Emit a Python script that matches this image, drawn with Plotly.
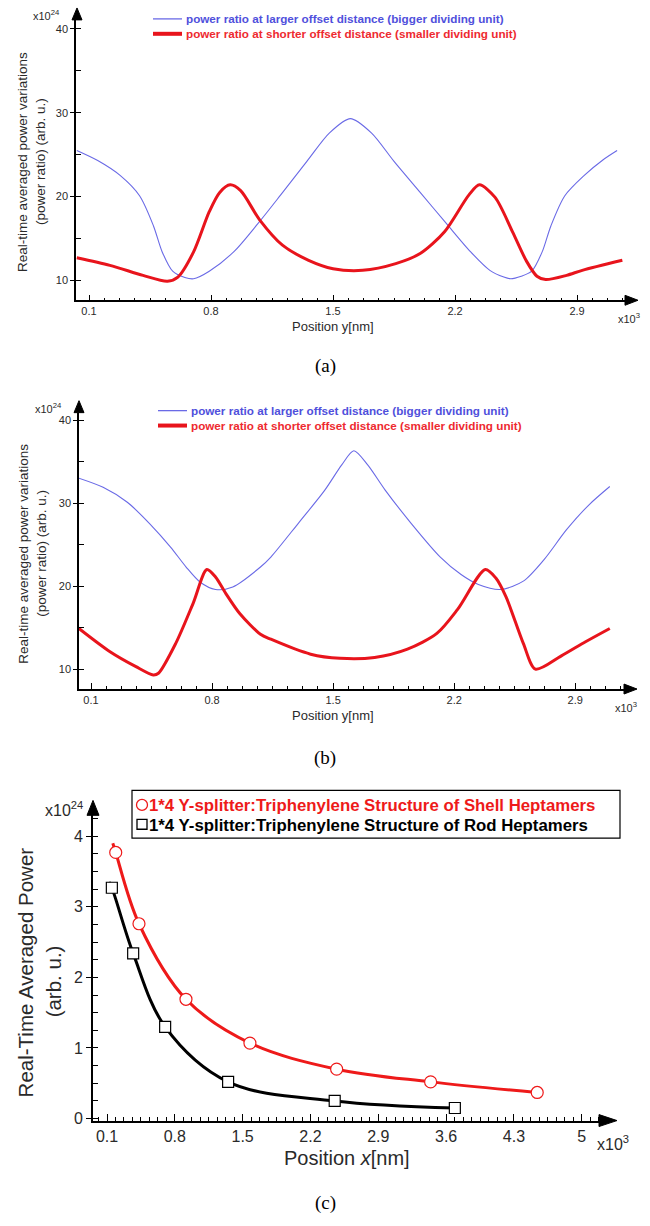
import plotly.graph_objects as go

W, H = 650, 1226


def fx(px):
    return px / W


def fy(py):
    return 1 - py / H


# ---------------- data ----------------
# Panel (a)
A_X_BLUE = [0.03, 0.15, 0.28, 0.39, 0.47, 0.52, 0.58, 0.65, 0.70, 0.79, 0.93, 1.07, 1.20, 1.35, 1.48, 1.60,
            1.72, 1.85, 2.00, 2.15, 2.29, 2.40, 2.48, 2.52, 2.58, 2.64, 2.70, 2.75, 2.83, 2.94, 3.05, 3.13]
A_Y_BLUE = [25.5, 24.3, 22.5, 20.1, 16.5, 13.4, 11.1, 10.35, 10.2, 11.1, 13.4, 16.8, 20.2, 24.2, 27.6, 29.3,
            27.6, 24.2, 20.5, 16.8, 13.4, 11.2, 10.4, 10.2, 10.5, 11.1, 13.4, 16.5, 20.1, 22.5, 24.4, 25.5]
A_X_RED = [0.03, 0.22, 0.41, 0.55, 0.61, 0.70, 0.79, 0.85, 0.91, 0.97, 1.08, 1.21, 1.36, 1.50, 1.67, 1.86,
           2.00, 2.14, 2.28, 2.34, 2.43, 2.53, 2.61, 2.67, 2.72, 2.84, 2.93, 3.16]
A_Y_RED = [12.7, 11.8, 10.6, 9.9, 10.4, 13.4, 18.2, 20.5, 21.4, 20.7, 17.2, 14.2, 12.4, 11.4, 11.2, 12.0,
           13.2, 15.8, 20.2, 21.4, 19.9, 15.8, 12.3, 10.5, 10.1, 10.6, 11.2, 12.4]

# Panel (b)
B_X_BLUE = [0.03, 0.17, 0.31, 0.44, 0.56, 0.65, 0.73, 0.82, 0.92, 1.08, 1.14, 1.30, 1.45, 1.55, 1.62, 1.70,
            1.80, 1.95, 2.12, 2.24, 2.34, 2.47, 2.60, 2.72, 2.85, 2.98, 3.10]
B_Y_BLUE = [33.0, 31.9, 30.1, 27.5, 24.7, 22.3, 20.5, 19.6, 19.9, 22.3, 23.5, 27.6, 31.5, 34.6, 36.3, 34.6,
            31.6, 27.6, 23.5, 21.4, 20.2, 19.6, 20.6, 23.2, 26.8, 29.8, 32.0]
B_X_RED = [0.03, 0.21, 0.36, 0.46, 0.49, 0.59, 0.69, 0.77, 0.82, 0.88, 0.96, 1.08, 1.14, 1.37, 1.54, 1.74,
           1.93, 2.10, 2.22, 2.38, 2.44, 2.50, 2.60, 2.67, 2.82, 2.96, 3.10]
B_Y_RED = [14.9, 12.1, 10.3, 9.3, 9.5, 13.1, 17.9, 22.0, 21.1, 19.1, 16.7, 14.2, 13.6, 11.8, 11.3, 11.4,
           12.4, 14.3, 17.2, 22.0, 21.0, 18.7, 13.1, 10.0, 11.6, 13.3, 14.9]

# Panel (c)
C_RED_X = [0.19, 0.43, 0.915, 1.575, 2.47, 3.44, 4.54]
C_RED_Y = [3.77, 2.76, 1.69, 1.07, 0.70, 0.52, 0.37]
C_RED_LINE_X = [0.16] + C_RED_X
C_RED_LINE_Y = [3.90] + C_RED_Y
C_BLK_X = [0.15, 0.37, 0.70, 1.35, 2.45, 3.69]
C_BLK_Y = [3.27, 2.34, 1.30, 0.52, 0.25, 0.15]
C_BLK_LINE_X = [0.12] + C_BLK_X
C_BLK_LINE_Y = [3.35] + C_BLK_Y

# tick labels
TICKS_AB_X = [0.1, 0.8, 1.5, 2.2, 2.9]
TICKLBL_AB_X = ["0.1", "0.8", "1.5", "2.2", "2.9"]
TICKS_AB_Y = [10, 20, 30, 40]
TICKS_C_X = [0.1, 0.8, 1.5, 2.2, 2.9, 3.6, 4.3, 5.0]
TICKLBL_C_X = ["0.1", "0.8", "1.5", "2.2", "2.9", "3.6", "4.3", "5"]
TICKS_C_Y = [0, 1, 2, 3, 4]

LEG_AB = ["power ratio at larger offset distance (bigger dividing unit)",
          "power ratio at shorter offset distance (smaller dividing unit)"]
LEG_C = ["1*4 Y-splitter:Triphenylene Structure of Shell Heptamers",
         "1*4 Y-splitter:Triphenylene Structure of Rod Heptamers"]

# ---------------- styling ----------------
FONT = "Arial, Liberation Sans, sans-serif"
SERIF = "Times New Roman, Liberation Serif, serif"
BLUE = "#6a6ae6"
BLUE_TXT = "#5050dc"
RED = "#e8141c"
RED_TXT = "#ee2a30"
C_RED = "#ee1a1a"
TXT = "#2a2a2a"

fig = go.Figure()

# panel (a)
fig.add_trace(go.Scatter(x=A_X_BLUE, y=A_Y_BLUE, mode="lines", xaxis="x", yaxis="y", name=LEG_AB[0],
                         line=dict(color=BLUE, width=1.1, shape="spline", smoothing=0.8)))
fig.add_trace(go.Scatter(x=A_X_RED, y=A_Y_RED, mode="lines", xaxis="x", yaxis="y", name=LEG_AB[1],
                         line=dict(color=RED, width=3, shape="spline", smoothing=0.8)))
# panel (b)
fig.add_trace(go.Scatter(x=B_X_BLUE, y=B_Y_BLUE, mode="lines", xaxis="x2", yaxis="y2", name=LEG_AB[0],
                         line=dict(color=BLUE, width=1.1, shape="spline", smoothing=0.8)))
fig.add_trace(go.Scatter(x=B_X_RED, y=B_Y_RED, mode="lines", xaxis="x2", yaxis="y2", name=LEG_AB[1],
                         line=dict(color=RED, width=3, shape="spline", smoothing=0.8)))
# panel (c) lines
fig.add_trace(go.Scatter(x=C_RED_LINE_X, y=C_RED_LINE_Y, mode="lines", xaxis="x3", yaxis="y3",
                         line=dict(color=C_RED, width=3, shape="spline", smoothing=1.0)))
fig.add_trace(go.Scatter(x=C_BLK_LINE_X, y=C_BLK_LINE_Y, mode="lines", xaxis="x3", yaxis="y3",
                         line=dict(color="black", width=3, shape="spline", smoothing=1.0)))
# panel (c) markers
fig.add_trace(go.Scatter(x=C_RED_X, y=C_RED_Y, mode="markers", xaxis="x3", yaxis="y3", name=LEG_C[0],
                         marker=dict(symbol="circle", size=12, color="white", line=dict(color=C_RED, width=1.2))))
fig.add_trace(go.Scatter(x=C_BLK_X, y=C_BLK_Y, mode="markers", xaxis="x3", yaxis="y3", name=LEG_C[1],
                         marker=dict(symbol="square", size=11, color="white", line=dict(color="black", width=1.2))))


def xax(domain, rng, anchor, ticks, labels, lw, font_size, ticklen, minorlen):
    return dict(domain=domain, range=rng, anchor=anchor, showline=True, linecolor="black", linewidth=lw,
                showgrid=False, zeroline=False, ticks="inside", ticklen=ticklen, tickwidth=1, tickcolor="black",
                tickmode="array", tickvals=ticks, ticktext=labels,
                tickfont=dict(family=FONT, size=font_size, color=TXT),
                minor=dict(ticks="inside", ticklen=minorlen, tickwidth=1, tickcolor="black",
                           tick0=0.1, dtick=0.0875, showgrid=False),
                fixedrange=True)


def yax(domain, rng, anchor, ticks, minor_dtick, lw, font_size, ticklen, minorlen):
    return dict(domain=domain, range=rng, anchor=anchor, showline=True, linecolor="black", linewidth=lw,
                showgrid=False, zeroline=False, ticks="outside", ticklen=ticklen, tickwidth=1, tickcolor="black",
                tickmode="array", tickvals=ticks,
                tickfont=dict(family=FONT, size=font_size, color=TXT),
                minor=dict(ticks="inside", ticklen=minorlen, tickwidth=1, tickcolor="black",
                           tick0=0, dtick=minor_dtick, showgrid=False),
                fixedrange=True)


fig.update_layout(
    width=W, height=H, margin=dict(l=0, r=0, t=0, b=0),
    paper_bgcolor="white", plot_bgcolor="white", showlegend=False,
    xaxis=xax([fx(76), fx(626)], [0.0254, 3.181], "y", TICKS_AB_X, TICKLBL_AB_X, 1.5, 11, 6, 3),
    yaxis=yax([fy(302), fy(20)], [7.63, 41.08], "x", TICKS_AB_Y, 5, 1.5, 11, 4, 5),
    xaxis2=xax([fx(79), fx(625)], [0.0306, 3.188], "y2", TICKS_AB_X, TICKLBL_AB_X, 1.5, 11, 6, 3),
    yaxis2=yax([fy(693), fy(415)], [7.60, 40.9], "x2", TICKS_AB_Y, 5, 1.5, 11, 4, 5),
    xaxis3=xax([fx(93), fx(600)], [-0.0445, 5.188], "y3", TICKS_C_X, TICKLBL_C_X, 2, 16, 7, 4),
    yaxis3=yax([fy(1127), fy(820)], [-0.028, 4.296], "x3", TICKS_C_Y, 0.25, 2, 16, 5, 5),
)

shapes = []
# axis arrowheads (decorations)
arrows = [
    f"M {fx(72)} {fy(20)} L {fx(82)} {fy(20)} L {fx(77)} {fy(8)} Z",
    f"M {fx(625)} {fy(297)} L {fx(625)} {fy(307)} L {fx(638)} {fy(302)} Z",
    f"M {fx(74)} {fy(415)} L {fx(84)} {fy(415)} L {fx(79)} {fy(403)} Z",
    f"M {fx(624)} {fy(688)} L {fx(624)} {fy(698)} L {fx(637)} {fy(693)} Z",
    f"M {fx(87)} {fy(820)} L {fx(99)} {fy(820)} L {fx(93)} {fy(805)} Z",
    f"M {fx(599)} {fy(1121)} L {fx(599)} {fy(1133)} L {fx(617)} {fy(1127)} Z",
]
for p in arrows:
    shapes.append(dict(type="path", path=p, xref="paper", yref="paper", fillcolor="black",
                       line=dict(color="black", width=1)))

# legend line samples for (a) and (b)
for (y1, y2) in [(19, 34), (413, 428)]:
    xs0 = 153 if y1 < 100 else 158
    shapes.append(dict(type="line", xref="paper", yref="paper", x0=fx(xs0), x1=fx(xs0 + 29), y0=fy(y1), y1=fy(y1),
                       line=dict(color=BLUE, width=1.3)))
    shapes.append(dict(type="line", xref="paper", yref="paper", x0=fx(xs0), x1=fx(xs0 + 29), y0=fy(y2), y1=fy(y2),
                       line=dict(color=RED, width=4)))
# legend box for (c)
shapes.append(dict(type="rect", xref="paper", yref="paper", x0=fx(132), x1=fx(620), y0=fy(843), y1=fy(795),
                   fillcolor="white", line=dict(color="black", width=1.2), layer="above"))
# legend symbols for (c)
shapes.append(dict(type="circle", xref="paper", yref="paper", x0=fx(136.5), x1=fx(147.5), y0=fy(815), y1=fy(804),
                   line=dict(color=C_RED, width=1.3), layer="above"))
shapes.append(dict(type="rect", xref="paper", yref="paper", x0=fx(137), x1=fx(147), y0=fy(834), y1=fy(824),
                   line=dict(color="black", width=1.3), layer="above"))

ann = []


def text(x, y, s, size, color=TXT, family=FONT, angle=0, xanchor="center", weight="normal"):
    ann.append(dict(x=fx(x), y=fy(y), xref="paper", yref="paper", text=s, showarrow=False,
                    font=dict(family=family, size=size, color=color, weight=weight), textangle=angle,
                    xanchor=xanchor, yanchor="middle"))


# legends
text(184, 19, LEG_AB[0], 11.7, color=BLUE_TXT, xanchor="left", weight="bold")
text(184, 34, LEG_AB[1], 11.7, color=RED_TXT, xanchor="left", weight="bold")
text(189, 413, LEG_AB[0], 11.7, color=BLUE_TXT, xanchor="left", weight="bold")
text(189, 428, LEG_AB[1], 11.7, color=RED_TXT, xanchor="left", weight="bold")
text(147, 810, LEG_C[0], 16.8, color=C_RED, xanchor="left", weight="bold")
text(147, 830, LEG_C[1], 16.8, color="black", xanchor="left", weight="bold")

# (a)
text(46, 15, "x10<sup>24</sup>", 11)
text(629, 320, "x10<sup>3</sup>", 11)
text(333, 328, "Position y[nm]", 13)
text(22, 163, "Real-time averaged power variations", 13.5, angle=-90)
text(40, 163, "(power ratio) (arb. u.)", 13.5, angle=-90)
text(325, 368, "(a)", 19, color="black", family=SERIF)
# (b)
text(48, 410, "x10<sup>24</sup>", 11)
text(626, 711, "x10<sup>3</sup>", 11)
text(333, 720, "Position y[nm]", 13)
text(24, 557, "Real-time averaged power variations", 13.5, angle=-90)
text(42, 557, "(power ratio) (arb. u.)", 13.5, angle=-90)
text(325, 762, "(b)", 19, color="black", family=SERIF)
# (c)
text(64, 814, "x10<sup>24</sup>", 16)
text(613, 1150, "x10<sup>3</sup>", 16)
text(347, 1165, "Position <i>x</i>[nm]", 20)
text(25, 978, "Real-Time Averaged Power", 20.5, angle=-90)
text(53, 987, "(arb. u.)", 20.5, angle=-90)
text(325, 1210, "(c)", 19, color="black", family=SERIF)

fig.update_layout(shapes=shapes, annotations=ann)

fig.write_html("out.html")
